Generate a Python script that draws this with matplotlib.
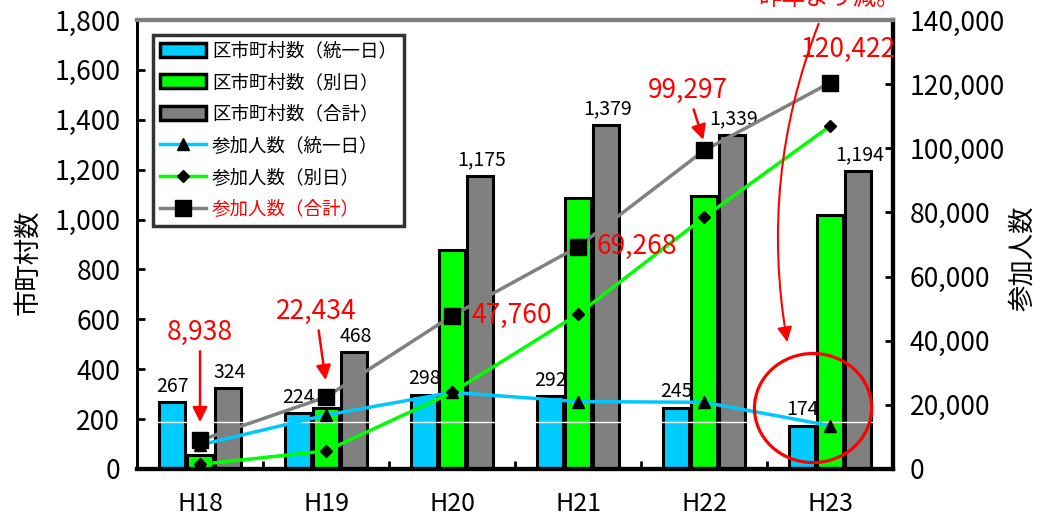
import matplotlib
matplotlib.use("Agg")
import matplotlib.pyplot as plt
import numpy as np
from matplotlib.patches import Patch, Ellipse
from matplotlib.lines import Line2D
from matplotlib.ticker import FuncFormatter, FixedLocator

plt.rcParams['font.family'] = ['Liberation Sans Narrow', 'Noto Sans CJK JP', 'DejaVu Sans']

categories = ['H18', 'H19', 'H20', 'H21', 'H22', 'H23']
muni_unified = [267, 224, 298, 292, 245, 174]
muni_separate = [57, 244, 877, 1087, 1094, 1020]
muni_total = [324, 468, 1175, 1379, 1339, 1194]
people_unified = [7500, 16800, 23900, 21000, 20800, 13500]
people_separate = [1438, 5634, 23860, 48268, 78497, 106922]
people_total = [8938, 22434, 47760, 69268, 99297, 120422]

legend_labels = ['区市町村数（統一日）', '区市町村数（別日）', '区市町村数（合計）',
                 '参加人数（統一日）', '参加人数（別日）', '参加人数（合計）']
left_label = '市町村数'
right_label = '参加人数'
note_text = '昨年より減。'

BLUE = '#00CCFF'
GREEN = '#00FF00'
GRAY = '#808080'
RED = '#FF0000'

fig = plt.figure(figsize=(10.46, 5.25), dpi=100)
ax = fig.add_axes([0.131, 0.1067, 0.7228, 0.8553])
ax2 = ax.twinx()

x = np.arange(len(categories))
off = 0.222
w = 0.205
ax.bar(x - off, muni_unified, w, color=BLUE, edgecolor='black', linewidth=2.2, zorder=2)
ax.bar(x, muni_separate, w, color=GREEN, edgecolor='black', linewidth=2.2, zorder=2)
ax.bar(x + off, muni_total, w, color=GRAY, edgecolor='black', linewidth=2.2, zorder=2)
ax.axhline(190, color='white', lw=1, zorder=3)

for i in range(len(x)):
    ax.annotate(f'{muni_unified[i]:,}', (x[i] - off, muni_unified[i]), xytext=(0, 4),
                textcoords='offset points', ha='center', va='bottom', fontsize=14, zorder=4)
    ax.annotate(f'{muni_total[i]:,}', (x[i] + off, muni_total[i]), xytext=(1, 4),
                textcoords='offset points', ha='center', va='bottom', fontsize=14, zorder=4)

ax.set_xlim(-0.5, 5.5)
ax.set_ylim(0, 1800)
ax.set_yticks(np.arange(0, 1801, 200))
ax.yaxis.set_major_formatter(FuncFormatter(lambda v, p: f'{int(v):,}'))
ax.set_xticks(x)
ax.set_xticklabels(categories, fontsize=18)
ax.xaxis.set_minor_locator(FixedLocator(np.arange(-0.5, 5.6, 1.0)))
ax.tick_params(axis='x', which='major', length=0, pad=16)
ax.tick_params(axis='x', which='minor', direction='in', length=6, width=2)
ax.tick_params(axis='y', direction='in', length=6, width=2, labelsize=19, pad=12)
fig.text(0.0268, 0.501, left_label, rotation=90, ha='center', va='center', fontsize=19)

ax2.plot(x, people_unified, color='#00C8FF', lw=2.5, marker='^', markersize=8,
         markerfacecolor='black', markeredgecolor='black', zorder=5)
ax2.plot(x, people_separate, color=GREEN, lw=2.5, marker='D', markersize=6,
         markerfacecolor='black', markeredgecolor='black', zorder=5)
ax2.plot(x, people_total, color=GRAY, lw=2.5, marker='s', markersize=11,
         markerfacecolor='black', markeredgecolor='black', zorder=6)
ax2.set_ylim(0, 140000)
ax2.set_yticks(np.arange(0, 140001, 20000))
ax2.yaxis.set_major_formatter(FuncFormatter(lambda v, p: f'{int(v):,}'))
ax2.tick_params(axis='y', direction='in', length=6, width=2, labelsize=19, pad=12)
fig.text(0.978, 0.509, right_label, rotation=90, ha='center', va='center', fontsize=19)

for a in (ax, ax2):
    a.spines['left'].set_linewidth(2)
    a.spines['right'].set_linewidth(3)
    a.spines['bottom'].set_linewidth(3)
    a.spines['top'].set_color(GRAY)
    a.spines['top'].set_linewidth(3)

# red value annotations
arrow_kw = dict(arrowstyle='-|>', color=RED, lw=1.8, mutation_scale=22)
ax2.annotate(f'{people_total[0]:,}', xy=(x[0], people_total[0] + 4800),
             xytext=(x[0], people_total[0] + 29500), ha='center', va='bottom',
             color=RED, fontsize=19, arrowprops=arrow_kw, zorder=7)
ax2.annotate(f'{people_total[1]:,}', xy=(x[1], people_total[1] + 4400),
             xytext=(x[1] - 0.08, people_total[1] + 22500), ha='center', va='bottom',
             color=RED, fontsize=19, arrowprops=arrow_kw, zorder=7)
ax2.annotate(f'{people_total[2]:,}', xy=(x[2], people_total[2]), xytext=(14, 0),
             textcoords='offset points', ha='left', va='center', color=RED, fontsize=19, zorder=7)
ax2.annotate(f'{people_total[3]:,}', xy=(x[3], people_total[3]), xytext=(13, 0),
             textcoords='offset points', ha='left', va='center', color=RED, fontsize=19, zorder=7)
ax2.annotate(f'{people_total[4]:,}', xy=(x[4], people_total[4] + 2500),
             xytext=(x[4] - 0.13, people_total[4] + 14500), ha='center', va='bottom',
             color=RED, fontsize=19, arrowprops=arrow_kw, zorder=7)
ax2.annotate(f'{people_total[5]:,}', xy=(x[5], people_total[5]), xytext=(13, 14),
             textcoords='offset points', ha='center', va='bottom', color=RED, fontsize=19, zorder=7)

# circle and note
ell = Ellipse((4.865, 19000), width=0.93, height=34000, fill=False,
              edgecolor=RED, lw=2.3, zorder=7)
ax2.add_patch(ell)
ax2.annotate(note_text, xy=(4.66, 39600), xytext=(4.99, 146500),
             ha='center', va='center', color=RED, fontsize=17, annotation_clip=False,
             arrowprops=dict(arrowstyle='-|>', color=RED, lw=1.5, mutation_scale=22,
                             connectionstyle='arc3,rad=0.15', shrinkA=8, shrinkB=0), zorder=7)

handles = [
    Patch(facecolor=BLUE, edgecolor='black', linewidth=2.5),
    Patch(facecolor=GREEN, edgecolor='black', linewidth=2.5),
    Patch(facecolor=GRAY, edgecolor='black', linewidth=2.5),
    Line2D([], [], color='#00C8FF', lw=2.5, marker='^', markersize=8,
           markerfacecolor='black', markeredgecolor='black'),
    Line2D([], [], color=GREEN, lw=2.5, marker='D', markersize=6,
           markerfacecolor='black', markeredgecolor='black'),
    Line2D([], [], color=GRAY, lw=2.5, marker='s', markersize=11,
           markerfacecolor='black', markeredgecolor='black'),
]
leg = ax2.legend(handles, legend_labels, loc='upper left', bbox_to_anchor=(0.021, 0.967),
                 borderaxespad=0, fontsize=13.3, frameon=True, fancybox=False,
                 handlelength=2.5, handleheight=0.8, labelspacing=0.74,
                 borderpad=0.4, handletextpad=0.3)
leg.get_frame().set_edgecolor('black')
leg.get_frame().set_linewidth(2.5)
leg.get_texts()[5].set_color(RED)
leg.set_zorder(10)

fig.savefig('out.png', dpi=100)
